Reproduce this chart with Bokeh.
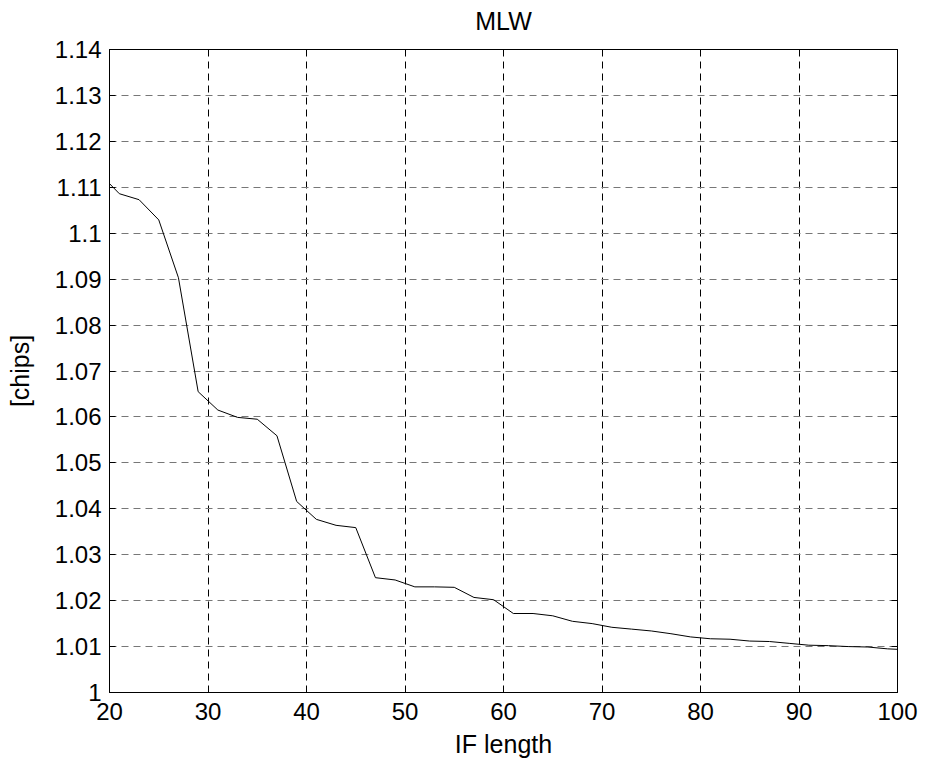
from bokeh.plotting import figure
from bokeh.models import LinearAxis, FixedTicker, Range1d, CustomLabelingPolicy
from bokeh.embed import file_html
from bokeh.resources import INLINE

if_length = [20, 21, 23, 25, 27, 29, 31, 33, 35, 37, 39, 41, 43, 45, 47, 49, 51, 53, 55, 57,
             59, 61, 63, 65, 67, 69, 71, 73, 75, 77, 79, 81, 83, 85, 87, 89, 91, 93, 95, 97, 99, 100]
mlw_chips = [1.1108, 1.1086, 1.1073, 1.1029, 1.0903, 1.0655, 1.0615, 1.0599, 1.0595, 1.0559,
             1.0416, 1.0377, 1.0364, 1.0359, 1.0250, 1.0245, 1.0230, 1.0230, 1.0229, 1.0207,
             1.0202, 1.0172, 1.0172, 1.0167, 1.0155, 1.0150, 1.0142, 1.0138, 1.0134, 1.0128,
             1.0121, 1.0117, 1.0116, 1.0112, 1.0111, 1.0107, 1.0103, 1.0102, 1.0100, 1.0099,
             1.0095, 1.0094]
x_ticks = [20, 30, 40, 50, 60, 70, 80, 90, 100]
y_ticks = [1.0, 1.01, 1.02, 1.03, 1.04, 1.05, 1.06, 1.07, 1.08, 1.09, 1.10, 1.11, 1.12, 1.13, 1.14]
y_labels = {1.0: "1", 1.01: "1.01", 1.02: "1.02", 1.03: "1.03", 1.04: "1.04", 1.05: "1.05",
            1.06: "1.06", 1.07: "1.07", 1.08: "1.08", 1.09: "1.09", 1.10: "1.1", 1.11: "1.11",
            1.12: "1.12", 1.13: "1.13", 1.14: "1.14"}

FONT = "Liberation Sans"
FS_TICK = "24px"
FS_LAB = "25px"

p = figure(frame_width=788, frame_height=643, output_backend="svg", toolbar_location=None,
           x_range=Range1d(20, 100), y_range=Range1d(1.0, 1.14),
           min_border_left=109, min_border_right=10, min_border_top=49, min_border_bottom=70,
           title="MLW", background_fill_color="white", border_fill_color="white")

p.line(if_length, mlw_chips, line_color="black", line_width=1)

p.title.align = "center"
p.title.text_font = FONT
p.title.text_font_size = FS_LAB
p.title.text_font_style = "normal"
p.title.text_color = "black"
p.title.standoff = 7

p.outline_line_color = "black"
p.outline_line_width = 1
p.outline_line_alpha = 1

for ax in (p.xaxis[0], p.yaxis[0]):
    ax.major_label_text_font = FONT
    ax.major_label_text_font_size = FS_TICK
    ax.major_label_text_color = "black"
    ax.axis_label_text_font = FONT
    ax.axis_label_text_font_size = FS_LAB
    ax.axis_label_text_font_style = "normal"
    ax.axis_label_text_color = "black"
    ax.major_tick_in = 6
    ax.major_tick_out = 0
    ax.minor_tick_in = 0
    ax.minor_tick_out = 0
    ax.axis_line_color = "black"
    ax.major_tick_line_color = "black"

p.xaxis.ticker = FixedTicker(ticks=x_ticks)
p.yaxis.ticker = FixedTicker(ticks=y_ticks)
p.yaxis.major_label_overrides = y_labels
p.xaxis.axis_label = "IF length"
p.yaxis.axis_label = "[chips]"
p.xaxis.major_label_standoff = 10
p.yaxis.major_label_standoff = 8
p.xaxis.axis_label_standoff = 7
p.yaxis.axis_label_standoff = 18

no_labels = CustomLabelingPolicy(code="if (false) { yield 0 }")
for loc, tk in (("right", y_ticks), ("above", x_ticks)):
    ax = LinearAxis(ticker=FixedTicker(ticks=tk), major_label_policy=no_labels,
                    major_tick_in=6, major_tick_out=0, minor_tick_in=0, minor_tick_out=0,
                    axis_line_color="black", major_tick_line_color="black",
                    major_label_standoff=0)
    p.add_layout(ax, loc)

p.xgrid.ticker = FixedTicker(ticks=x_ticks)
p.ygrid.ticker = FixedTicker(ticks=y_ticks)
p.xgrid.grid_line_color = "black"
p.xgrid.grid_line_dash = "7 5"
p.xgrid.grid_line_width = 1
p.ygrid.grid_line_color = "#777777"
p.ygrid.grid_line_dash = "7 5"
p.ygrid.grid_line_width = 1

open("out.html", "w").write(file_html(p, INLINE))
